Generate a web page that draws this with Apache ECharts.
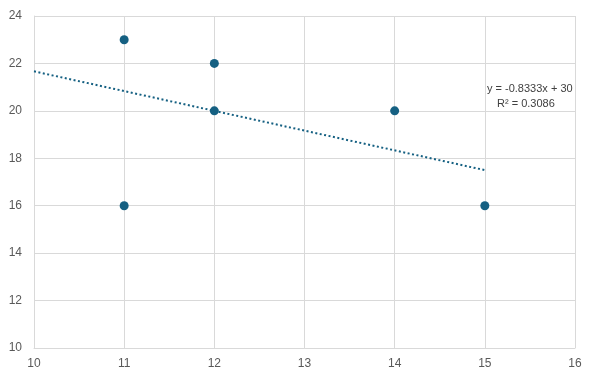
<!DOCTYPE html>
<html><head><meta charset="utf-8">
<script src="https://cdn.jsdelivr.net/npm/echarts@6/dist/echarts.min.js"></script>
<style>html,body{margin:0;padding:0;background:#fff}#c{width:598px;height:384px}</style>
</head><body><div id="c"></div>
<script>
var xValues = [11, 11, 12, 12, 14, 15];
var yValues = [23, 16, 22, 20, 20, 16];
var trendSlope = -0.8333;
var trendIntercept = 30;
var trendRange = [10, 15];
var eqLine1 = 'y = -0.8333x + 30';
var eqLine2 = 'R² = 0.3086';

var pts = xValues.map(function(x, i){ return [x, yValues[i]]; });
var trend = trendRange.map(function(x){ return [x, trendSlope * x + trendIntercept]; });
var col = '#156082';
var font = '"Liberation Sans", Arial, sans-serif';
var chart = echarts.init(document.getElementById('c'));
chart.setOption({
  animation: false,
  grid: {left: 34, right: 23, top: 16, bottom: 36, containLabel: false},
  xAxis: {type: 'value', min: 10, max: 16, interval: 1,
    axisLine: {show: true, lineStyle: {color: '#d9d9d9'}}, axisTick: {show: false},
    splitLine: {show: true, lineStyle: {color: '#d9d9d9'}},
    axisLabel: {color: '#595959', fontSize: 12, fontFamily: font, margin: 10}},
  yAxis: {type: 'value', min: 10, max: 24, interval: 2,
    axisLine: {show: true, lineStyle: {color: '#d9d9d9'}}, axisTick: {show: false},
    splitLine: {show: true, lineStyle: {color: '#d9d9d9'}},
    axisLabel: {color: '#595959', fontSize: 12, fontFamily: font, margin: 12}},
  series: [
    {type: 'line', data: trend, symbol: 'none', silent: true,
     lineStyle: {color: col, width: 2, type: [2, 2.5]}, z: 1},
    {type: 'scatter', data: pts, symbolSize: 9, itemStyle: {color: col, opacity: 1}, z: 3}
  ],
  graphic: [
    {type: 'text', left: 487, top: 83, style: {text: eqLine1, fill: '#404040', font: '11px ' + font}},
    {type: 'text', left: 497, top: 98, style: {text: eqLine2, fill: '#404040', font: '11px ' + font}}
  ]
});
</script></body></html>
